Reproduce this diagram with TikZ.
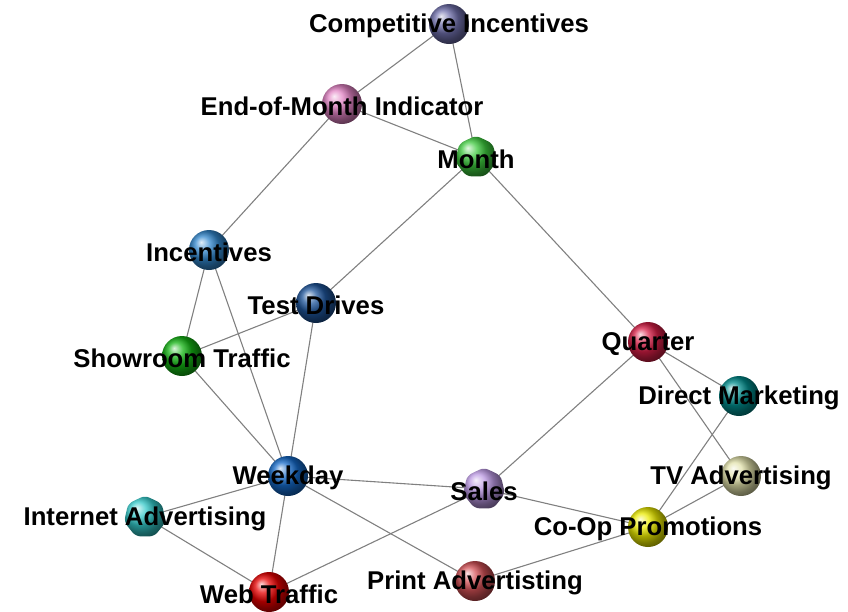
\documentclass[tikz,border=0pt]{standalone}
\usepackage{fontspec}
\setmainfont{Liberation Sans}
\usetikzlibrary{shapes.geometric,backgrounds}
\definecolor{cCI}{RGB}{110,110,170}
\definecolor{cEM}{RGB}{225,130,195}
\definecolor{cMo}{RGB}{60,200,60}
\definecolor{cIn}{RGB}{50,135,205}
\definecolor{cTD}{RGB}{30,85,155}
\definecolor{cST}{RGB}{20,180,20}
\definecolor{cQu}{RGB}{215,30,70}
\definecolor{cDM}{RGB}{0,140,140}
\definecolor{cWd}{RGB}{20,105,200}
\definecolor{cTV}{RGB}{225,225,170}
\definecolor{cSa}{RGB}{185,150,225}
\definecolor{cIA}{RGB}{50,200,200}
\definecolor{cCO}{RGB}{235,235,0}
\definecolor{cWT}{RGB}{230,0,0}
\definecolor{cPA}{RGB}{210,80,85}
\definecolor{edgegray}{RGB}{128,128,128}
\tikzset{
  ball/.style={circle,minimum size=40pt,inner sep=0pt,shading=ball,ball color=#1},
  hexball/.style={regular polygon,regular polygon sides=7,minimum size=43pt,inner sep=0pt,rounded corners=5pt,shading=ball,ball color=#1},
  lab/.style={font=\bfseries\fontsize{25.7}{27}\selectfont,text=black,inner sep=0pt,yshift=-2pt},
  edge/.style={draw=edgegray,line width=1.1pt}
}
\begin{document}
\begin{tikzpicture}[x=1pt,y=-1pt]
\useasboundingbox (0,0) rectangle (848,611);
\node[ball=cCI,label={[lab]center:Competitive Incentives}] (ci) at (449,24) {};
\node[ball=cEM,label={[lab]center:End-of-Month Indicator}] (em) at (342,104) {};
\node[hexball=cMo,label={[lab]center:Month}] (mo) at (476,157) {};
\node[ball=cIn,label={[lab]center:Incentives}] (in) at (209,250) {};
\node[ball=cTD,label={[lab]center:Test Drives}] (td) at (316,303) {};
\node[ball=cST,label={[lab]center:Showroom Traffic}] (st) at (182,356) {};
\node[ball=cQu,label={[lab]center:Quarter}] (qu) at (648,342) {};
\node[ball=cDM,label={[lab]center:Direct Marketing}] (dm) at (739,396) {};
\node[ball=cWd,label={[lab]center:Weekday}] (wd) at (288,476) {};
\node[ball=cTV,label={[lab]center:TV Advertising}] (tv) at (741,476) {};
\node[hexball=cSa,label={[lab]center:Sales}] (sa) at (484,489) {};
\node[hexball=cIA,label={[lab]center:Internet Advertising}] (ia) at (145,517) {};
\node[ball=cCO,label={[lab]center:Co-Op Promotions}] (co) at (648,527) {};
\node[ball=cWT,label={[lab]center:Web Traffic}] (wt) at (269,592) {};
\node[ball=cPA,label={[lab]center:Print Advertisting}] (pa) at (475,581) {};
\begin{scope}[on background layer]
\draw[edge] (ci.center) -- (em.center);
\draw[edge] (ci.center) -- (mo.center);
\draw[edge] (em.center) -- (mo.center);
\draw[edge] (em.center) -- (in.center);
\draw[edge] (mo.center) -- (td.center);
\draw[edge] (mo.center) -- (qu.center);
\draw[edge] (in.center) -- (st.center);
\draw[edge] (in.center) -- (wd.center);
\draw[edge] (td.center) -- (st.center);
\draw[edge] (td.center) -- (wd.center);
\draw[edge] (st.center) -- (wd.center);
\draw[edge] (qu.center) -- (dm.center);
\draw[edge] (qu.center) -- (tv.center);
\draw[edge] (qu.center) -- (sa.center);
\draw[edge] (dm.center) -- (co.center);
\draw[edge] (tv.center) -- (co.center);
\draw[edge] (wd.center) -- (sa.center);
\draw[edge] (wd.center) -- (ia.center);
\draw[edge] (wd.center) -- (wt.center);
\draw[edge] (wd.center) -- (pa.center);
\draw[edge] (sa.center) -- (wt.center);
\draw[edge] (sa.center) -- (co.center);
\draw[edge] (ia.center) -- (wt.center);
\draw[edge] (co.center) -- (pa.center);
\end{scope}
\end{tikzpicture}
\end{document}
